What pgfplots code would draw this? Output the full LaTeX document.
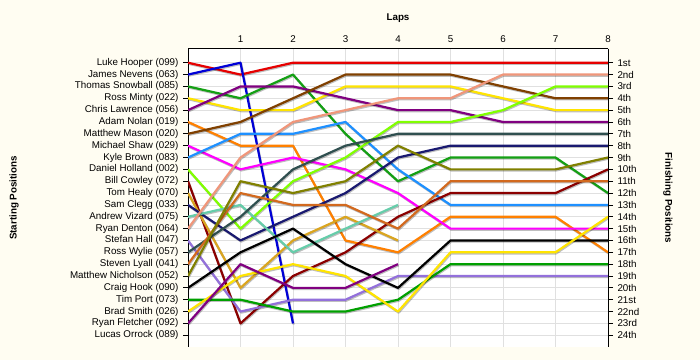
\documentclass[border=0pt]{standalone}
\usepackage{fontspec}
\setmainfont{Liberation Sans}
\usepackage{pgfplots}
\pgfplotsset{compat=1.18}
\definecolor{bg}{RGB}{255,253,242}
\definecolor{cRed}{RGB}{230,0,0}
\definecolor{cBlue}{RGB}{0,0,215}
\definecolor{cGreen}{RGB}{20,160,20}
\definecolor{cYellow}{RGB}{255,228,0}
\definecolor{cPurple}{RGB}{128,0,128}
\definecolor{cOrange}{RGB}{255,128,0}
\definecolor{cBrown}{RGB}{128,64,0}
\definecolor{cMagenta}{RGB}{255,0,255}
\definecolor{cDodger}{RGB}{30,144,255}
\definecolor{cLime}{RGB}{128,255,0}
\definecolor{cDarkRed}{RGB}{139,0,0}
\definecolor{cGold}{RGB}{218,165,32}
\definecolor{cNavy}{RGB}{25,25,112}
\definecolor{cAqua}{RGB}{102,205,170}
\definecolor{cSalmon}{RGB}{240,150,122}
\definecolor{cLav}{RGB}{147,112,219}
\definecolor{cDSG}{RGB}{47,79,79}
\definecolor{cChoc}{RGB}{210,105,30}
\definecolor{cOlive}{RGB}{128,128,0}
\definecolor{cBlack}{RGB}{0,0,0}
\definecolor{cGreenB}{RGB}{0,160,0}
\definecolor{cYellowB}{RGB}{255,228,0}
\definecolor{cPurpleB}{RGB}{128,0,128}
\newcommand{\lblfont}{\fontsize{9.8bp}{11bp}\selectfont}
\begin{document}
\begin{tikzpicture}
\fill[bg] (0,0) rectangle (700bp,-360bp);
\begin{axis}[
  at={(188bp,-48.5bp)}, anchor=north west,
  scale only axis, width=420bp, height=298.6bp,
  xmin=0, xmax=8, ymin=-0.2, ymax=25, y dir=reverse,
  axis background/.style={fill=white},
  axis x line*=top, axis y line*=left,
  xtick={1,...,8}, x tick style={draw=none},
  ytick={1,...,24},
  yticklabels={Luke Hooper (099),James Nevens (063),Thomas Snowball (085),Ross Minty (022),Chris Lawrence (056),Adam Nolan (019),Matthew Mason (020),Michael Shaw (029),Kyle Brown (083),Daniel Holland (002),Bill Cowley (072),Tom Healy (070),Sam Clegg (033),Andrew Vizard (075),Ryan Denton (064),Stefan Hall (047),Ross Wylie (057),Steven Lyall (041),Matthew Nicholson (052),Craig Hook (090),Tim Port (073),Brad Smith (026),Ryan Fletcher (092),Lucas Orrock (089)},
  tick align=outside, major tick length=5bp,
  y tick style={black, line width=0.8bp},
  axis line style={black, line width=0.9bp},
  grid=major, grid style={draw=black!12, line width=0.8bp},
  tick label style={font=\lblfont},
  /pgf/number format/assume math mode=true,
  xticklabel style={yshift=-3bp},
  yticklabel style={xshift=-1bp},
  every axis plot/.append style={line width=2.2bp, no markers, line join=round,
     preaction={draw=black, draw opacity=0.25, transform canvas={xshift=0.7bp, yshift=-1.1bp}}},
]
\addplot[cRed] coordinates {(0,1)(1,2)(2,1)(3,1)(4,1)(5,1)(6,1)(7,1)(8,1)};
\addplot[cBlue] coordinates {(0,2)(1,1)(2,23)};
\addplot[cGreen] coordinates {(0,3)(1,4)(2,2)(3,7)(4,11)(5,9)(6,9)(7,9)(8,12)};
\addplot[cYellow] coordinates {(0,4)(1,5)(2,5)(3,3)(4,3)(5,3)(6,4)(7,5)(8,5)};
\addplot[cPurple] coordinates {(0,5)(1,3)(2,3)(3,4)(4,5)(5,5)(6,6)(7,6)(8,6)};
\addplot[cOrange] coordinates {(0,6)(1,8)(2,8)(3,16)(4,17)(5,14)(6,14)(7,14)(8,17)};
\addplot[cBrown] coordinates {(0,7)(1,6)(2,4)(3,2)(4,2)(5,2)(6,3)(7,4)(8,4)};
\addplot[cMagenta] coordinates {(0,8)(1,10)(2,9)(3,10)(4,12)(5,15)(6,15)(7,15)(8,15)};
\addplot[cDodger] coordinates {(0,9)(1,7)(2,7)(3,6)(4,10)(5,13)(6,13)(7,13)(8,13)};
\addplot[cLime] coordinates {(0,10)(1,15)(2,11)(3,9)(4,6)(5,6)(6,5)(7,3)(8,3)};
\addplot[cDarkRed] coordinates {(0,11)(1,23)(2,19)(3,17)(4,14)(5,12)(6,12)(7,12)(8,10)};
\addplot[cGold] coordinates {(0,12)(1,20)(2,16)(3,14)(4,16)};
\addplot[cNavy] coordinates {(0,13)(1,16)(2,14)(3,12)(4,9)(5,8)(6,8)(7,8)(8,8)};
\addplot[cAqua] coordinates {(0,14)(1,13)(2,17)(3,15)(4,13)};
\addplot[cSalmon] coordinates {(0,15)(1,9)(2,6)(3,5)(4,4)(5,4)(6,2)(7,2)(8,2)};
\addplot[cLav] coordinates {(0,16)(1,22)(2,21)(3,21)(4,19)(5,19)(6,19)(7,19)(8,19)};
\addplot[cDSG] coordinates {(0,17)(1,14)(2,10)(3,8)(4,7)(5,7)(6,7)(7,7)(8,7)};
\addplot[cChoc] coordinates {(0,18)(1,12)(2,13)(3,13)(4,15)(5,11)(6,11)(7,11)(8,11)};
\addplot[cOlive] coordinates {(0,19)(1,11)(2,12)(3,11)(4,8)(5,10)(6,10)(7,10)(8,9)};
\addplot[cBlack] coordinates {(0,20)(1,17)(2,15)(3,18)(4,20)(5,16)(6,16)(7,16)(8,16)};
\addplot[cGreenB] coordinates {(0,21)(1,21)(2,22)(3,22)(4,21)(5,18)(6,18)(7,18)(8,18)};
\addplot[cYellowB] coordinates {(0,22)(1,19)(2,18)(3,19)(4,22)(5,17)(6,17)(7,17)(8,14)};
\addplot[cPurpleB] coordinates {(0,23)(1,18)(2,20)(3,20)(4,18)};
\end{axis}
\begin{axis}[
  at={(188bp,-48.5bp)}, anchor=north west,
  scale only axis, width=420bp, height=298.6bp,
  xmin=0, xmax=8, ymin=-0.2, ymax=25, y dir=reverse,
  axis x line=none, axis y line*=right,
  xtick=\empty,
  ytick={1,...,24},
  yticklabels={1st,2nd,3rd,4th,5th,6th,7th,8th,9th,10th,11th,12th,13th,14th,15th,16th,17th,18th,19th,20th,21st,22nd,23rd,24th},
  tick align=outside, major tick length=5bp,
  y tick style={black, line width=0.8bp},
  axis line style={black, line width=0.9bp},
  tick label style={font=\lblfont},
  yticklabel style={xshift=1bp},
]
\end{axis}
\node[font=\lblfont\bfseries] at (398bp,-18bp) {Laps};
\node[font=\lblfont\bfseries, rotate=90] at (14bp,-198bp) {Starting Positions};
\node[font=\lblfont\bfseries, rotate=-90] at (668bp,-198bp) {Finishing Positions};
\pgfresetboundingbox
\path (0,0) rectangle (700bp,-360bp);
\end{tikzpicture}
\end{document}
